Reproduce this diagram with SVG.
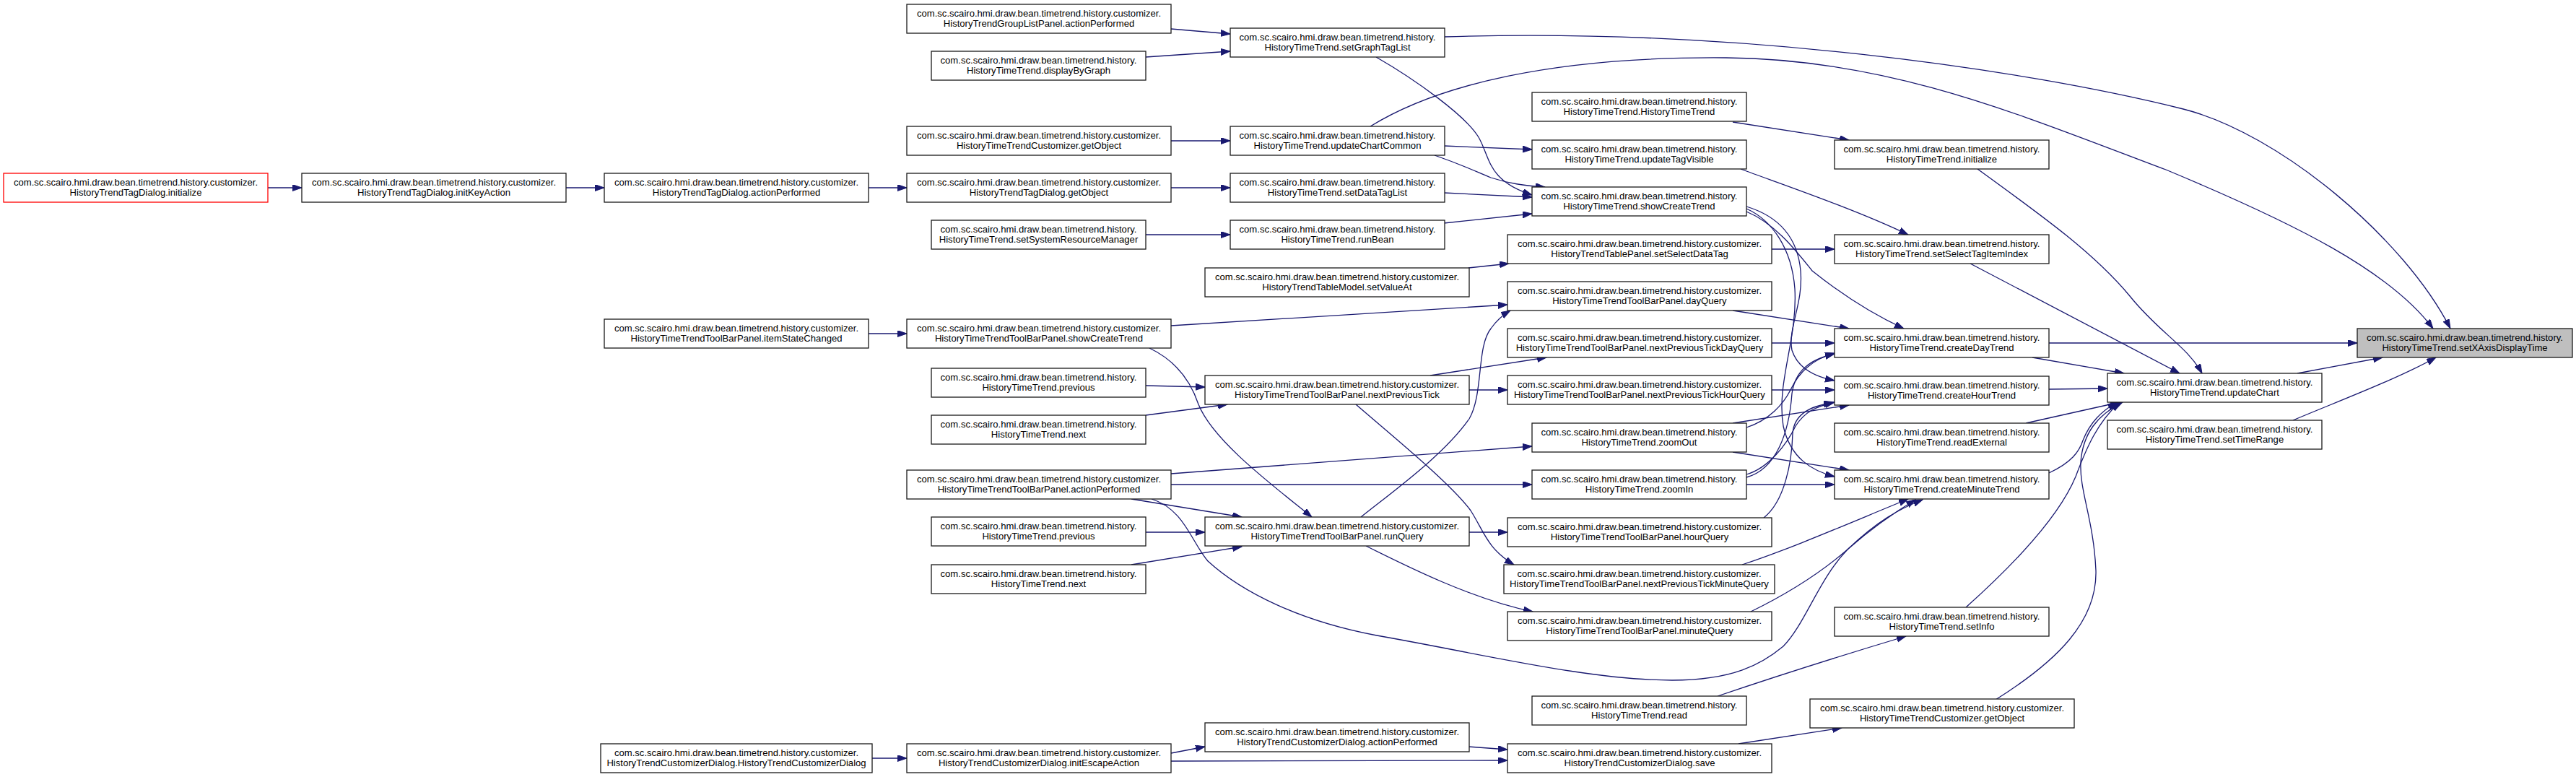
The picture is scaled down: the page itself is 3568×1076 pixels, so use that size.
<svg xmlns="http://www.w3.org/2000/svg" width="3568" height="1076" viewBox="0 0 3568 1076">
<style>
.node rect{fill:#ffffff;stroke:#1a1a1a;stroke-width:1.3}
.node.root rect{fill:#bfbfbf}
.node.start rect{stroke:#ff0000}
.node text{font-family:"Liberation Sans",Arial,sans-serif;font-size:13.1px;text-anchor:middle;fill:#000}
.edges path{fill:none;stroke:#191970;stroke-width:1.3;marker-end:url(#arr)}
</style>
<defs>
<marker id="arr" markerUnits="userSpaceOnUse" markerWidth="14" markerHeight="10" refX="13" refY="4.5" orient="auto">
<path d="M0,0 L13,4.5 L0,9 z" fill="#191970" stroke="#191970" stroke-width="1"/>
</marker>
</defs>
<rect width="3568" height="1076" fill="#ffffff"/>
<g id="edges" class="edges">
<path d="M371,260 L418,260"/>
<path d="M784,260 L837,260"/>
<path d="M1203,260 L1256,260"/>
<path d="M1622,260 L1704,260"/>
<path d="M1622,40 L1704,47"/>
<path d="M1587,79 L1704,71"/>
<path d="M2000,51 C2400,38 2800,95 3024,151 C3158,185 3330,330 3394,455"/>
<path d="M1898,175 C1990,118 2150,78 2391,80 C2620,82 2800,160 3000,235 C3180,310 3310,375 3370,455"/>
<path d="M1906,79 C1960,110 2030,160 2048,190 C2065,220 2060,250 2122,270"/>
<path d="M1622,195 L1704,195"/>
<path d="M2000,202 L2122,207"/>
<path d="M1987,215 C2030,230 2045,238 2065,246 C2090,254 2110,257 2140,259"/>
<path d="M2000,267 L2122,273"/>
<path d="M2000,309 L2122,296"/>
<path d="M1587,325 L1704,325"/>
<path d="M2400,169 L2561,194"/>
<path d="M2411,234 C2470,256 2570,290 2643,325"/>
<path d="M2453,345 L2541,345"/>
<path d="M2034,371 L2090,365"/>
<path d="M2739,234 C2830,300 2900,350 2950,410 C2990,460 3030,480 3050,517"/>
<path d="M2729,365 L3019,517"/>
<path d="M2838,475 L3265,475"/>
<path d="M2815,495 L2942,517"/>
<path d="M2838,539 L2919,538"/>
<path d="M2806,586 L2936,557"/>
<path d="M2838,655 C2870,640 2880,625 2885,610 C2895,585 2910,570 2932,557"/>
<path d="M2723,841 C2780,790 2850,720 2875,660 C2890,620 2905,585 2936,557"/>
<path d="M2764,969 C2850,915 2905,860 2903,790 C2900,720 2880,680 2882,640 C2885,600 2905,575 2940,557"/>
<path d="M3182,517 L3300,495"/>
<path d="M3176,582 C3240,555 3320,525 3374,495"/>
<path d="M2419,293 C2460,310 2490,350 2510,375 C2560,415 2600,438 2637,455"/>
<path d="M2419,286 C2465,300 2490,330 2494,375 C2498,420 2476,455 2482,485 C2490,510 2515,522 2541,527"/>
<path d="M2419,289 C2455,305 2482,345 2486,400 C2490,470 2460,530 2470,590 C2480,635 2510,652 2541,660"/>
<path d="M1622,451 L2088,422"/>
<path d="M1592,482 C1630,500 1650,530 1660,560 C1680,610 1760,670 1817,716"/>
<path d="M1203,462 L1256,462"/>
<path d="M2400,430 L2561,455"/>
<path d="M2453,475 L2541,475"/>
<path d="M1981,520 L2142,495"/>
<path d="M2035,540 L2088,540"/>
<path d="M1878,560 C1930,605 2010,670 2037,707 C2055,735 2060,760 2097,782"/>
<path d="M1587,534 L1669,536"/>
<path d="M1587,575 L1700,560"/>
<path d="M2453,540 L2541,540"/>
<path d="M2400,586 L2561,561"/>
<path d="M2419,592 C2450,582 2470,560 2480,540 C2492,515 2510,498 2541,489"/>
<path d="M2400,626 L2561,651"/>
<path d="M2419,671 L2541,671"/>
<path d="M2419,657 C2450,648 2475,615 2487,590 C2500,570 2515,563 2541,557"/>
<path d="M2419,661 C2460,650 2478,600 2482,545 C2486,515 2505,498 2541,490"/>
<path d="M2443,717 C2472,694 2482,640 2483,600 C2485,575 2505,562 2539,558"/>
<path d="M1622,656 L2122,618"/>
<path d="M1622,671 L2122,671"/>
<path d="M1567,691 L1720,716"/>
<path d="M1595,691 C1640,705 1650,750 1673,777 C1720,820 1800,860 1907,880 C2050,905 2200,942 2316,942 C2400,942 2440,920 2470,895 C2500,865 2520,800 2560,760 C2600,722 2630,705 2663,692"/>
<path d="M1587,737 L1669,737"/>
<path d="M1567,782 L1720,757"/>
<path d="M2035,737 L2088,737"/>
<path d="M1885,716 C1930,680 2000,630 2035,580 C2055,545 2045,480 2065,455 C2072,445 2080,437 2092,430"/>
<path d="M1892,756 C1950,785 2040,830 2123,847"/>
<path d="M2413,782 C2480,760 2560,725 2643,691"/>
<path d="M2425,847 C2470,825 2520,795 2560,760 C2600,725 2630,706 2653,692"/>
<path d="M1208,1050 L1256,1050"/>
<path d="M1622,1043 L1669,1034"/>
<path d="M1622,1054 L2088,1053"/>
<path d="M2034,1034 L2088,1038"/>
<path d="M2408,1030 L2551,1008"/>
<path d="M2379,964 C2450,940 2560,905 2640,881"/>
</g>
<g id="n_tagdlg_init" class="node start"><rect x="5" y="240" width="366" height="40"/><text x="188" y="257">com.sc.scairo.hmi.draw.bean.timetrend.history.customizer.</text><text x="188" y="271">HistoryTrendTagDialog.initialize</text></g>
<g id="n_tagdlg_initkey" class="node"><rect x="418" y="240" width="366" height="40"/><text x="601" y="257">com.sc.scairo.hmi.draw.bean.timetrend.history.customizer.</text><text x="601" y="271">HistoryTrendTagDialog.initKeyAction</text></g>
<g id="n_tagdlg_ap" class="node"><rect x="837" y="240" width="366" height="40"/><text x="1020" y="257">com.sc.scairo.hmi.draw.bean.timetrend.history.customizer.</text><text x="1020" y="271">HistoryTrendTagDialog.actionPerformed</text></g>
<g id="n_tb_itemstate" class="node"><rect x="837" y="442" width="366" height="40"/><text x="1020" y="459">com.sc.scairo.hmi.draw.bean.timetrend.history.customizer.</text><text x="1020" y="473">HistoryTimeTrendToolBarPanel.itemStateChanged</text></g>
<g id="n_cdlg_ctor" class="node"><rect x="832" y="1030" width="376" height="40"/><text x="1020" y="1047">com.sc.scairo.hmi.draw.bean.timetrend.history.customizer.</text><text x="1020" y="1061">HistoryTrendCustomizerDialog.HistoryTrendCustomizerDialog</text></g>
<g id="n_glp_ap" class="node"><rect x="1256" y="6" width="366" height="40"/><text x="1439" y="23">com.sc.scairo.hmi.draw.bean.timetrend.history.customizer.</text><text x="1439" y="37">HistoryTrendGroupListPanel.actionPerformed</text></g>
<g id="n_displayByGraph" class="node"><rect x="1290" y="71" width="297" height="40"/><text x="1438.5" y="88">com.sc.scairo.hmi.draw.bean.timetrend.history.</text><text x="1438.5" y="102">HistoryTimeTrend.displayByGraph</text></g>
<g id="n_cust_getobj_l" class="node"><rect x="1256" y="175" width="366" height="40"/><text x="1439" y="192">com.sc.scairo.hmi.draw.bean.timetrend.history.customizer.</text><text x="1439" y="206">HistoryTimeTrendCustomizer.getObject</text></g>
<g id="n_tagdlg_getobj" class="node"><rect x="1256" y="240" width="366" height="40"/><text x="1439" y="257">com.sc.scairo.hmi.draw.bean.timetrend.history.customizer.</text><text x="1439" y="271">HistoryTrendTagDialog.getObject</text></g>
<g id="n_setSRM" class="node"><rect x="1290" y="305" width="297" height="40"/><text x="1438.5" y="322">com.sc.scairo.hmi.draw.bean.timetrend.history.</text><text x="1438.5" y="336">HistoryTimeTrend.setSystemResourceManager</text></g>
<g id="n_tb_showCreate" class="node"><rect x="1256" y="442" width="366" height="40"/><text x="1439" y="459">com.sc.scairo.hmi.draw.bean.timetrend.history.customizer.</text><text x="1439" y="473">HistoryTimeTrendToolBarPanel.showCreateTrend</text></g>
<g id="n_prev1" class="node"><rect x="1290" y="510" width="297" height="40"/><text x="1438.5" y="527">com.sc.scairo.hmi.draw.bean.timetrend.history.</text><text x="1438.5" y="541">HistoryTimeTrend.previous</text></g>
<g id="n_next1" class="node"><rect x="1290" y="575" width="297" height="40"/><text x="1438.5" y="592">com.sc.scairo.hmi.draw.bean.timetrend.history.</text><text x="1438.5" y="606">HistoryTimeTrend.next</text></g>
<g id="n_tb_ap" class="node"><rect x="1256" y="651" width="366" height="40"/><text x="1439" y="668">com.sc.scairo.hmi.draw.bean.timetrend.history.customizer.</text><text x="1439" y="682">HistoryTimeTrendToolBarPanel.actionPerformed</text></g>
<g id="n_prev2" class="node"><rect x="1290" y="716" width="297" height="40"/><text x="1438.5" y="733">com.sc.scairo.hmi.draw.bean.timetrend.history.</text><text x="1438.5" y="747">HistoryTimeTrend.previous</text></g>
<g id="n_next2" class="node"><rect x="1290" y="782" width="297" height="40"/><text x="1438.5" y="799">com.sc.scairo.hmi.draw.bean.timetrend.history.</text><text x="1438.5" y="813">HistoryTimeTrend.next</text></g>
<g id="n_initEsc" class="node"><rect x="1256" y="1030" width="366" height="40"/><text x="1439" y="1047">com.sc.scairo.hmi.draw.bean.timetrend.history.customizer.</text><text x="1439" y="1061">HistoryTrendCustomizerDialog.initEscapeAction</text></g>
<g id="n_setGraphTagList" class="node"><rect x="1704" y="39" width="297" height="40"/><text x="1852.5" y="56">com.sc.scairo.hmi.draw.bean.timetrend.history.</text><text x="1852.5" y="70">HistoryTimeTrend.setGraphTagList</text></g>
<g id="n_updateChartCommon" class="node"><rect x="1704" y="175" width="297" height="40"/><text x="1852.5" y="192">com.sc.scairo.hmi.draw.bean.timetrend.history.</text><text x="1852.5" y="206">HistoryTimeTrend.updateChartCommon</text></g>
<g id="n_setDataTagList" class="node"><rect x="1704" y="240" width="297" height="40"/><text x="1852.5" y="257">com.sc.scairo.hmi.draw.bean.timetrend.history.</text><text x="1852.5" y="271">HistoryTimeTrend.setDataTagList</text></g>
<g id="n_runBean" class="node"><rect x="1704" y="305" width="297" height="40"/><text x="1852.5" y="322">com.sc.scairo.hmi.draw.bean.timetrend.history.</text><text x="1852.5" y="336">HistoryTimeTrend.runBean</text></g>
<g id="n_setValueAt" class="node"><rect x="1669" y="371" width="366" height="40"/><text x="1852" y="388">com.sc.scairo.hmi.draw.bean.timetrend.history.customizer.</text><text x="1852" y="402">HistoryTrendTableModel.setValueAt</text></g>
<g id="n_npt" class="node"><rect x="1669" y="520" width="366" height="40"/><text x="1852" y="537">com.sc.scairo.hmi.draw.bean.timetrend.history.customizer.</text><text x="1852" y="551">HistoryTimeTrendToolBarPanel.nextPreviousTick</text></g>
<g id="n_runQuery" class="node"><rect x="1669" y="716" width="366" height="40"/><text x="1852" y="733">com.sc.scairo.hmi.draw.bean.timetrend.history.customizer.</text><text x="1852" y="747">HistoryTimeTrendToolBarPanel.runQuery</text></g>
<g id="n_cdlg_ap" class="node"><rect x="1669" y="1001" width="366" height="40"/><text x="1852" y="1018">com.sc.scairo.hmi.draw.bean.timetrend.history.customizer.</text><text x="1852" y="1032">HistoryTrendCustomizerDialog.actionPerformed</text></g>
<g id="n_htt_ctor" class="node"><rect x="2122" y="128" width="297" height="40"/><text x="2270.5" y="145">com.sc.scairo.hmi.draw.bean.timetrend.history.</text><text x="2270.5" y="159">HistoryTimeTrend.HistoryTimeTrend</text></g>
<g id="n_updateTagVisible" class="node"><rect x="2122" y="194" width="297" height="40"/><text x="2270.5" y="211">com.sc.scairo.hmi.draw.bean.timetrend.history.</text><text x="2270.5" y="225">HistoryTimeTrend.updateTagVisible</text></g>
<g id="n_showCreateTrend" class="node"><rect x="2122" y="259" width="297" height="40"/><text x="2270.5" y="276">com.sc.scairo.hmi.draw.bean.timetrend.history.</text><text x="2270.5" y="290">HistoryTimeTrend.showCreateTrend</text></g>
<g id="n_setSelectDataTag" class="node"><rect x="2088" y="325" width="366" height="40"/><text x="2271" y="342">com.sc.scairo.hmi.draw.bean.timetrend.history.customizer.</text><text x="2271" y="356">HistoryTrendTablePanel.setSelectDataTag</text></g>
<g id="n_dayQuery" class="node"><rect x="2088" y="390" width="366" height="40"/><text x="2271" y="407">com.sc.scairo.hmi.draw.bean.timetrend.history.customizer.</text><text x="2271" y="421">HistoryTimeTrendToolBarPanel.dayQuery</text></g>
<g id="n_nptDay" class="node"><rect x="2088" y="455" width="366" height="40"/><text x="2271" y="472">com.sc.scairo.hmi.draw.bean.timetrend.history.customizer.</text><text x="2271" y="486">HistoryTimeTrendToolBarPanel.nextPreviousTickDayQuery</text></g>
<g id="n_nptHour" class="node"><rect x="2088" y="520" width="366" height="40"/><text x="2271" y="537">com.sc.scairo.hmi.draw.bean.timetrend.history.customizer.</text><text x="2271" y="551">HistoryTimeTrendToolBarPanel.nextPreviousTickHourQuery</text></g>
<g id="n_zoomOut" class="node"><rect x="2122" y="586" width="297" height="40"/><text x="2270.5" y="603">com.sc.scairo.hmi.draw.bean.timetrend.history.</text><text x="2270.5" y="617">HistoryTimeTrend.zoomOut</text></g>
<g id="n_zoomIn" class="node"><rect x="2122" y="651" width="297" height="40"/><text x="2270.5" y="668">com.sc.scairo.hmi.draw.bean.timetrend.history.</text><text x="2270.5" y="682">HistoryTimeTrend.zoomIn</text></g>
<g id="n_hourQuery" class="node"><rect x="2088" y="717" width="366" height="40"/><text x="2271" y="734">com.sc.scairo.hmi.draw.bean.timetrend.history.customizer.</text><text x="2271" y="748">HistoryTimeTrendToolBarPanel.hourQuery</text></g>
<g id="n_nptMinute" class="node"><rect x="2083" y="782" width="375" height="40"/><text x="2270.5" y="799">com.sc.scairo.hmi.draw.bean.timetrend.history.customizer.</text><text x="2270.5" y="813">HistoryTimeTrendToolBarPanel.nextPreviousTickMinuteQuery</text></g>
<g id="n_minuteQuery" class="node"><rect x="2088" y="847" width="366" height="40"/><text x="2271" y="864">com.sc.scairo.hmi.draw.bean.timetrend.history.customizer.</text><text x="2271" y="878">HistoryTimeTrendToolBarPanel.minuteQuery</text></g>
<g id="n_read" class="node"><rect x="2122" y="964" width="297" height="40"/><text x="2270.5" y="981">com.sc.scairo.hmi.draw.bean.timetrend.history.</text><text x="2270.5" y="995">HistoryTimeTrend.read</text></g>
<g id="n_save" class="node"><rect x="2088" y="1030" width="366" height="40"/><text x="2271" y="1047">com.sc.scairo.hmi.draw.bean.timetrend.history.customizer.</text><text x="2271" y="1061">HistoryTrendCustomizerDialog.save</text></g>
<g id="n_initialize" class="node"><rect x="2541" y="194" width="297" height="40"/><text x="2689.5" y="211">com.sc.scairo.hmi.draw.bean.timetrend.history.</text><text x="2689.5" y="225">HistoryTimeTrend.initialize</text></g>
<g id="n_setSelectTagItemIndex" class="node"><rect x="2541" y="325" width="297" height="40"/><text x="2689.5" y="342">com.sc.scairo.hmi.draw.bean.timetrend.history.</text><text x="2689.5" y="356">HistoryTimeTrend.setSelectTagItemIndex</text></g>
<g id="n_createDayTrend" class="node"><rect x="2541" y="455" width="297" height="40"/><text x="2689.5" y="472">com.sc.scairo.hmi.draw.bean.timetrend.history.</text><text x="2689.5" y="486">HistoryTimeTrend.createDayTrend</text></g>
<g id="n_createHourTrend" class="node"><rect x="2541" y="521" width="297" height="40"/><text x="2689.5" y="538">com.sc.scairo.hmi.draw.bean.timetrend.history.</text><text x="2689.5" y="552">HistoryTimeTrend.createHourTrend</text></g>
<g id="n_readExternal" class="node"><rect x="2541" y="586" width="297" height="40"/><text x="2689.5" y="603">com.sc.scairo.hmi.draw.bean.timetrend.history.</text><text x="2689.5" y="617">HistoryTimeTrend.readExternal</text></g>
<g id="n_createMinuteTrend" class="node"><rect x="2541" y="651" width="297" height="40"/><text x="2689.5" y="668">com.sc.scairo.hmi.draw.bean.timetrend.history.</text><text x="2689.5" y="682">HistoryTimeTrend.createMinuteTrend</text></g>
<g id="n_setInfo" class="node"><rect x="2541" y="841" width="297" height="40"/><text x="2689.5" y="858">com.sc.scairo.hmi.draw.bean.timetrend.history.</text><text x="2689.5" y="872">HistoryTimeTrend.setInfo</text></g>
<g id="n_cust_getobj_r" class="node"><rect x="2507" y="968" width="366" height="40"/><text x="2690" y="985">com.sc.scairo.hmi.draw.bean.timetrend.history.customizer.</text><text x="2690" y="999">HistoryTimeTrendCustomizer.getObject</text></g>
<g id="n_updateChart" class="node"><rect x="2919" y="517" width="297" height="40"/><text x="3067.5" y="534">com.sc.scairo.hmi.draw.bean.timetrend.history.</text><text x="3067.5" y="548">HistoryTimeTrend.updateChart</text></g>
<g id="n_setTimeRange" class="node"><rect x="2919" y="582" width="297" height="40"/><text x="3067.5" y="599">com.sc.scairo.hmi.draw.bean.timetrend.history.</text><text x="3067.5" y="613">HistoryTimeTrend.setTimeRange</text></g>
<g id="n_setXAxisDisplayTime" class="node root"><rect x="3265" y="455" width="298" height="40"/><text x="3414" y="472">com.sc.scairo.hmi.draw.bean.timetrend.history.</text><text x="3414" y="486">HistoryTimeTrend.setXAxisDisplayTime</text></g>
</svg>
